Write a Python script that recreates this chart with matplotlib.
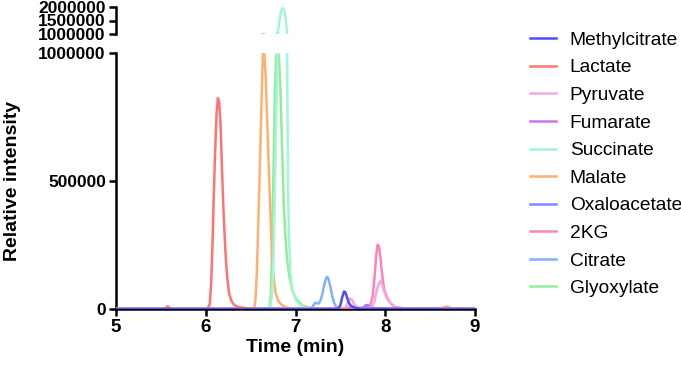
import matplotlib
matplotlib.use("Agg")
import matplotlib.pyplot as plt

plt.rcParams['font.family'] = ['Liberation Sans', 'DejaVu Sans']

# ---------------- data ----------------
names = ["Methylcitrate", "Lactate", "Pyruvate", "Fumarate", "Succinate",
         "Malate", "Oxaloacetate", "2KG", "Citrate", "Glyoxylate"]
colors = ["#4d4dff", "#ff7373", "#f7a6e4", "#cc73f5", "#a3f5da",
          "#ffb070", "#8585ff", "#ff82ba", "#80b0ff", "#93ee93"]

methylcitrate_t = [5.0, 7.45, 7.48, 7.50, 7.52, 7.54, 7.555, 7.57, 7.59, 7.61, 7.64, 7.68, 7.75, 9.0]
methylcitrate_v = [0, 0, 2000, 15000, 45000, 68000, 66000, 50000, 28000, 15000, 8000, 3000, 1000, 0]

lactate_t = [5.0, 5.53, 5.56, 5.575, 5.59, 5.62, 6.02, 6.045, 6.06, 6.075, 6.09, 6.105, 6.12, 6.135,
             6.15, 6.165, 6.18, 6.196, 6.21, 6.225, 6.24, 6.26, 6.285, 6.315, 6.36, 6.45, 6.6, 9.0]
lactate_v = [0, 0, 6000, 10000, 6000, 0, 0, 20000, 100000, 250000, 450000, 620000, 760000, 825000,
             810000, 720000, 560000, 400000, 290000, 190000, 120000, 62000, 32000, 16000, 8000, 3000, 0, 0]

pyruvate_t = [5.0, 7.5, 7.56, 7.59, 7.61, 7.63, 7.66, 7.7, 7.8, 7.85, 7.88, 7.91, 7.935, 7.95,
              7.97, 8.0, 8.03, 8.07, 8.12, 8.2, 8.3, 9.0]
pyruvate_v = [0, 0, 5000, 30000, 42000, 35000, 15000, 5000, 3000, 8000, 30000, 80000, 105000, 109000,
              90000, 55000, 35000, 18000, 8000, 3000, 0, 0]

fumarate_t = [5.0, 7.55, 7.6, 7.65, 7.72, 7.79, 7.86, 7.95, 9.0]
fumarate_v = [0, 0, 5000, 2000, 2000, 9000, 3000, 0, 0]

succinate_t = [5.0, 6.68, 6.72, 6.74, 6.755, 6.77, 6.785, 6.8, 6.815, 6.83, 6.845, 6.857, 6.87,
               6.885, 6.898, 6.907, 6.912, 6.918, 6.928, 6.944, 6.96, 6.98, 7.0, 7.03, 7.06,
               7.1, 7.15, 7.2, 9.0]
succinate_v = [0, 0, 10000, 60000, 200000, 450000, 750000, 1000000, 1350000, 1680000, 1900000,
               1950000, 1900000, 1700000, 1350000, 1000000, 700000, 450000, 280000, 141000, 90000,
               55000, 40000, 22000, 12000, 5000, 1000, 0, 0]

malate_t = [5.0, 6.54, 6.555, 6.57, 6.585, 6.6, 6.612, 6.625, 6.637, 6.65, 6.665, 6.68, 6.696,
            6.71, 6.725, 6.74, 6.76, 6.78, 6.81, 6.85, 6.9, 6.95, 7.0, 8.6, 8.65, 8.685, 8.72, 8.77, 9.0]
malate_v = [0, 0, 40000, 150000, 330000, 520000, 680000, 860000, 1000000, 1008000, 930000, 790000,
            620000, 480000, 330000, 200000, 110000, 60000, 30000, 15000, 6000, 2000, 0,
            0, 6000, 10000, 6000, 0, 0]

oxaloacetate_t = [5.0, 7.7, 7.75, 7.78, 7.8, 7.83, 7.87, 7.95, 9.0]
oxaloacetate_v = [0, 0, 5000, 14000, 16000, 10000, 3000, 0, 0]

kg2_t = [5.0, 7.75, 7.8, 7.83, 7.86, 7.88, 7.9, 7.915, 7.93, 7.95, 7.97, 7.99, 8.02, 8.06, 8.1,
         8.17, 8.25, 9.0]
kg2_v = [0, 0, 3000, 12000, 50000, 120000, 210000, 252000, 245000, 190000, 120000, 75000, 45000,
         22000, 10000, 3000, 0, 0]

citrate_t = [5.0, 7.0, 7.15, 7.19, 7.21, 7.225, 7.24, 7.26, 7.28, 7.3, 7.32, 7.34, 7.355, 7.37,
             7.39, 7.41, 7.43, 7.45, 7.48, 7.52, 9.0]
citrate_v = [0, 0, 2000, 8000, 20000, 25000, 22000, 22000, 35000, 60000, 95000, 120000, 126000,
             115000, 85000, 50000, 24000, 10000, 3000, 0, 0]

glyoxylate_t = [5.0, 6.69, 6.71, 6.725, 6.74, 6.759, 6.77, 6.785, 6.8, 6.815, 6.83, 6.852, 6.87,
                6.89, 6.907, 6.93, 6.963, 7.0, 7.037, 7.08, 7.15, 7.25, 9.0]
glyoxylate_v = [0, 0, 5000, 60000, 250000, 620000, 850000, 990000, 1003000, 990000, 880000, 620000,
                400000, 270000, 191000, 130000, 74000, 45000, 28000, 14000, 5000, 0, 0]

series_t = [methylcitrate_t, lactate_t, pyruvate_t, fumarate_t, succinate_t,
            malate_t, oxaloacetate_t, kg2_t, citrate_t, glyoxylate_t]
series_v = [methylcitrate_v, lactate_v, pyruvate_v, fumarate_v, succinate_v,
            malate_v, oxaloacetate_v, kg2_v, citrate_v, glyoxylate_v]

x_ticks = [5, 6, 7, 8, 9]
y_ticks_low = [0, 500000, 1000000]
y_ticks_high = [1000000, 1500000, 2000000]

# ---------------- figure ----------------
W, H = 681, 366
fig = plt.figure(figsize=(W / 100, H / 100), dpi=100)
left, right = 116 / W, 475 / W
ax = fig.add_axes([left, 1 - 309 / H, right - left, (309 - 53.3) / H])
axt = fig.add_axes([left, 1 - 34.3 / H, right - left, (34.3 - 6.7) / H])

lw = 1.8
handles = []
n = len(names)
for i, (nm, c, t, v) in enumerate(zip(names, colors, series_t, series_v)):
    z = 10 + (n - i)
    h, = ax.plot(t, v, color=c, lw=lw, label=nm, zorder=z, solid_joinstyle='round')
    axt.plot(t, v, color=c, lw=lw, zorder=z, solid_joinstyle='round')
    handles.append(h)

ytick_fs = 12.5
xtick_fs = 13.5
for a in (ax, axt):
    a.set_xlim(5, 9)
    for s in ("top", "right"):
        a.spines[s].set_visible(False)
    a.spines["left"].set_linewidth(1.8)
    a.tick_params(axis='both', direction='out', length=4.8, width=1.8, pad=2.5)
    a.tick_params(axis='y', labelsize=ytick_fs)

ax.set_ylim(0, 1000000)
ax.set_xticks(x_ticks)
ax.set_yticks(y_ticks_low)
ax.set_xticklabels([str(x) for x in x_ticks], fontweight='bold', fontsize=xtick_fs)
ax.set_yticklabels([str(y) for y in y_ticks_low], fontweight='bold')
ax.spines["bottom"].set_linewidth(1.8)

axt.set_ylim(1000000, 2000000)
axt.spines["bottom"].set_visible(False)
axt.set_xticks([])
axt.set_yticks(y_ticks_high)
axt.set_yticklabels([str(y) for y in y_ticks_high], fontweight='bold')

ax.set_xlabel("Time (min)", fontsize=14, fontweight='bold', labelpad=2)
ax.set_ylabel("Relative intensity", fontsize=14, fontweight='bold')
ax.yaxis.label.set_verticalalignment('center')
ax.yaxis.set_label_coords((13 - 116) / (475 - 116), 0.5)

fig.legend(handles, names, loc='upper left', bbox_to_anchor=(530 / W, 1 - 31.5 / H),
           frameon=False, fontsize=13.8, handlelength=1.35, handletextpad=0.72,
           labelspacing=0.53, borderpad=0, borderaxespad=0)

fig.savefig("out.png", dpi=100)
